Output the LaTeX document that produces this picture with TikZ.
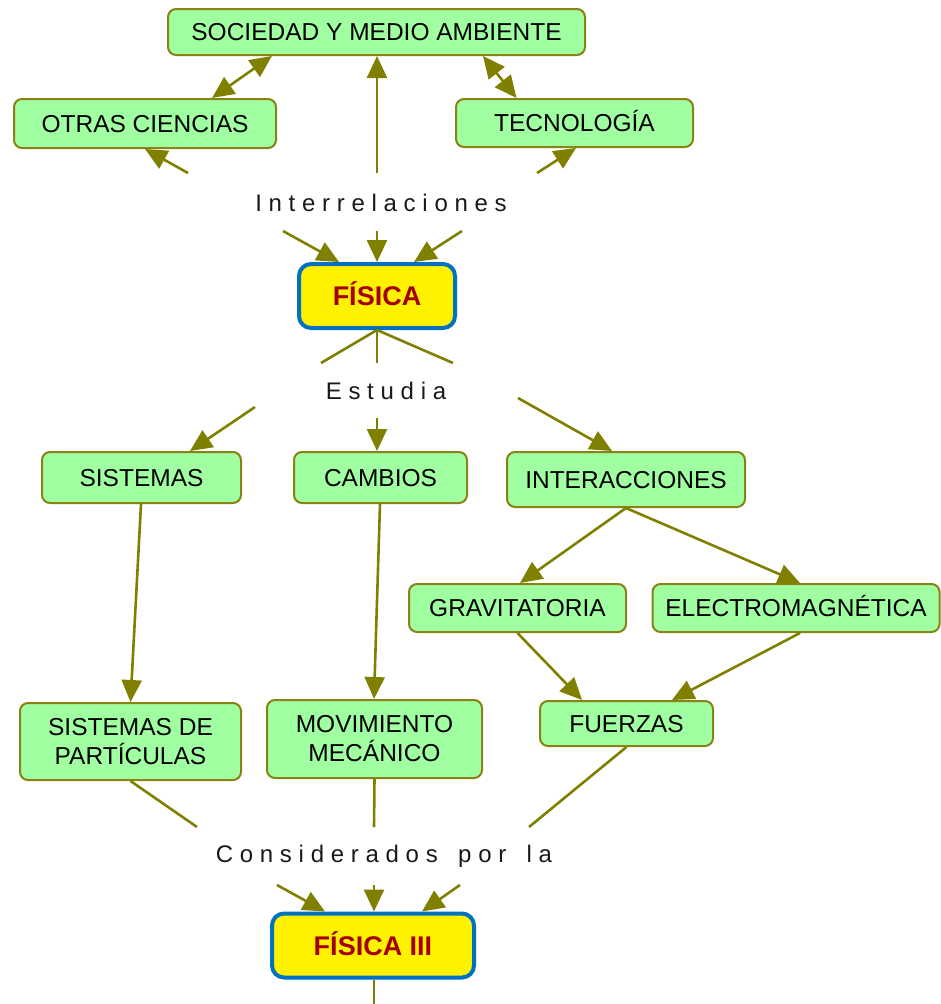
\documentclass[tikz,border=0pt]{standalone}
\usepackage{fontspec}
\setmainfont{Liberation Sans}
\newfontfamily\linkfont[LetterSpace=28]{Liberation Sans}
\usetikzlibrary{arrows.meta,calc}
\definecolor{olivel}{RGB}{128,128,0}
\definecolor{boxfill}{RGB}{160,255,160}
\definecolor{boxline}{RGB}{138,130,20}
\definecolor{mainblue}{RGB}{0,112,192}
\definecolor{mainred}{RGB}{165,0,0}
\definecolor{linktext}{RGB}{25,25,25}
\begin{document}
\begin{tikzpicture}[x=1pt,y=-1pt,
  concept/.style={draw=boxline, line width=2pt, fill=boxfill, rounded corners=8pt,
    inner sep=0pt, font=\fontsize{24.5}{28}\selectfont, text height=17.5pt, text depth=0pt},
  concept2/.style={draw=boxline, line width=2pt, fill=boxfill, rounded corners=8pt,
    inner sep=0pt, font=\fontsize{24.5}{29}\selectfont, align=center},
  mainbox/.style={draw=mainblue, line width=4pt, fill=yellow, rounded corners=12pt,
    inner sep=0pt, font=\fontsize{27}{30}\selectfont\bfseries, text=mainred,
    text height=19pt, text depth=0pt},
  linkph/.style={inner sep=0pt, font=\linkfont\fontsize{24}{28}\selectfont, text=linktext},
  conn/.style={draw=olivel, line width=2.6pt},
  arr/.style={conn, -{Triangle[length=22pt,width=20pt]}},
  darr/.style={conn, {Triangle[length=22pt,width=20pt]}-{Triangle[length=22pt,width=20pt]}}
]
\useasboundingbox (0,0) rectangle (941,1004);

% concept nodes
\node[concept, minimum width=417pt, minimum height=46pt] (soc) at (376.5,32) {SOCIEDAD Y MEDIO AMBIENTE};
\node[concept, minimum width=262pt, minimum height=49pt] (otras) at (145,123.5) {OTRAS CIENCIAS};
\node[concept, minimum width=237pt, minimum height=48pt] (tecno) at (574.5,123) {TECNOLOGÍA};
\node[mainbox, minimum width=156pt, minimum height=64pt] (fis) at (377,296) {FÍSICA};
\node[concept, minimum width=199pt, minimum height=51pt] (sist) at (141.5,477.5) {SISTEMAS};
\node[concept, minimum width=173pt, minimum height=51pt] (camb) at (380.5,477.5) {CAMBIOS};
\node[concept, minimum width=238pt, minimum height=55pt] (interac) at (626,479.5) {INTERACCIONES};
\node[concept, minimum width=217pt, minimum height=48pt] (grav) at (517.5,608) {GRAVITATORIA};
\node[concept, minimum width=287pt, minimum height=48pt] (elec) at (796,608) {ELECTROMAGNÉTICA};
\node[concept, minimum width=173pt, minimum height=45pt] (fuer) at (626.5,723.5) {FUERZAS};
\node[concept2, minimum width=221pt, minimum height=77pt] (part) at (130.5,741.5) {SISTEMAS DE\\PARTÍCULAS};
\node[concept2, minimum width=215pt, minimum height=78pt] (mov) at (374.5,739) {MOVIMIENTO\\MECÁNICO};
\node[mainbox, minimum width=202pt, minimum height=64pt] (fis3) at (373,945.5) {FÍSICA III};

% linking phrases
\node[linkph] (l1) at (381,203) {Interrelaciones};
\node[linkph] (l2) at (386,391) {Estudia};
\node[linkph] (l3) at (384,856) {Considerados\hspace{7pt} por\hspace{7pt} la};
\coordinate (bot) at (374,1004);

% connectors
\draw[darr] ($(otras.north)+(67,0)$) -- ($(soc.south)+(-104.5,0)$);
\draw[darr] ($(tecno.north)+(-58,0)$) -- ($(soc.south)+(106.5,0)$);

\draw[arr] ($(l1)+(-4,-30)$) -- ($(soc.south)+(0.5,0)$);
\draw[arr] ($(l1)+(-193,-30)$) -- (otras.south);
\draw[arr] ($(l1)+(156,-30)$) -- ($(tecno.south)+(1.5,0)$);
\draw[arr] ($(l1)+(-98,28)$) -- ($(fis.north)+(-38,0)$);
\draw[arr] ($(l1)+(-4,28)$) -- (fis.north);
\draw[arr] ($(l1)+(81,28)$) -- ($(fis.north)+(37,0)$);

\draw[conn] (fis.south) -- ($(l2)+(-65,-28)$);
\draw[conn] (fis.south) -- ($(l2)+(-9,-28)$);
\draw[conn] (fis.south) -- ($(l2)+(67,-28)$);
\draw[arr] ($(l2)+(-131,16)$) -- ($(sist.north)+(48.5,0)$);
\draw[arr] ($(l2)+(-9,27)$) -- ($(camb.north)+(-3.5,0)$);
\draw[arr] ($(l2)+(132,7)$) -- ($(interac.north)+(-14,0)$);

\draw[arr] (interac.south) -- ($(grav.north)+(2.5,0)$);
\draw[arr] (interac.south) -- ($(elec.north)+(4,0)$);
\draw[arr] (grav.south) -- ($(fuer.north)+(-44.5,0)$);
\draw[arr] ($(elec.south)+(4,0)$) -- ($(fuer.north)+(45.5,0)$);
\draw[arr] ($(sist.south)+(-0.5,0)$) -- (part.north);
\draw[arr] ($(camb.south)+(-0.5,0)$) -- ($(mov.north)+(-0.5,0)$);

\draw[conn] (part.south) -- ($(l3)+(-187,-29)$);
\draw[conn] (mov.south) -- ($(l3)+(-10,-29)$);
\draw[conn] (fuer.south) -- ($(l3)+(145,-29)$);
\draw[arr] ($(l3)+(-107,29)$) -- ($(fis3.north)+(-48,0)$);
\draw[arr] ($(l3)+(-10,29)$) -- ($(fis3.north)+(1,0)$);
\draw[arr] ($(l3)+(76,29)$) -- ($(fis3.north)+(49,0)$);
\draw[conn] ($(fis3.south)+(1,0)$) -- (bot);
\end{tikzpicture}
\end{document}
